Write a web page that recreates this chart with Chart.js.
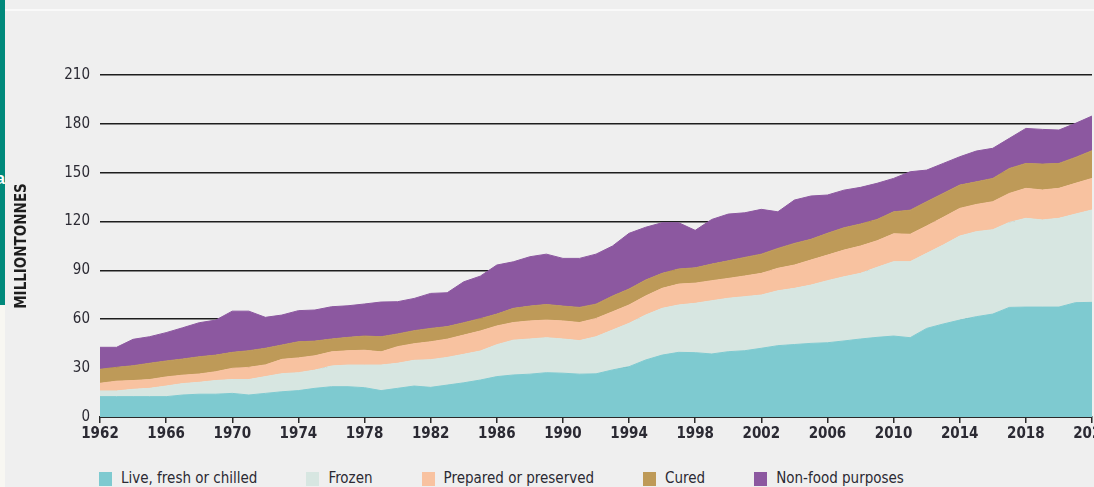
<!DOCTYPE html>
<html>
<head>
<meta charset="utf-8">
<script src="https://cdn.jsdelivr.net/npm/chart.js@4.4.0/dist/chart.umd.min.js"></script>
<style>
  html, body { margin: 0; padding: 0; background: #efefef; width: 1094px; height: 487px; overflow: hidden; }
  body { position: relative; font-family: "Liberation Sans Narrow", "DejaVu Sans Condensed", "Roboto Condensed", sans-serif; }
  #strip { position: absolute; left: 0; top: 0; width: 5px; height: 305px; background: #00897b; }
  #strip2 { position: absolute; left: 0; top: 305px; width: 5px; height: 182px; background: #f8f7f2; }
  #topline { position: absolute; left: 5px; top: 9px; right: 0; height: 2px; background: #f9f9f9; }
  #cut { position: absolute; left: -4px; top: 170px; color: #fff; font: bold 16px "Liberation Sans", sans-serif; }
  #chart { position: absolute; left: 0; top: 0; }
  #legend { position: absolute; left: 99px; top: 471px; display: flex; gap: 49px; font-size: 15px; color: #2b2a33; line-height: 15px; }
  #legend div { display: flex; align-items: center; }
  #legend span.box { display: inline-block; width: 13px; height: 14px; margin-right: 9px; }
</style>
</head>
<body>
<div id="strip"></div>
<div id="strip2"></div>
<div id="topline"></div>
<div id="cut">a</div>
<canvas id="chart" width="1130" height="462"></canvas>
<div id="legend"></div>
<script>
// years 1962 - 2022
const years = [];
for (let y = 1962; y <= 2022; y++) years.push(y);

const tickYears = [1962, 1966, 1970, 1974, 1978, 1982, 1986, 1990, 1994, 1998, 2002, 2006, 2010, 2014, 2018, 2022];
const yTicks = [0, 30, 60, 90, 120, 150, 180, 210];

const seriesNames = ['Live, fresh or chilled', 'Frozen', 'Prepared or preserved', 'Cured', 'Non-food purposes'];
const seriesColors = ['#7ecad0', '#d7e6e1', '#f8c2a0', '#be9a58', '#8c58a0'];

// million tonnes
const live = [12.5, 12.5, 12.5, 12.5, 12.5, 13.5, 14, 14, 14.5, 13.5, 14.5, 15.5, 16.2, 17.6, 18.6, 18.6, 18, 16.2, 17.6, 19,
  18.2, 19.6, 21, 22.7, 24.8, 25.8, 26.3, 27.2, 26.9, 26.3, 26.5, 28.9, 30.9, 35, 38, 39.7, 39.5, 38.7, 40.1, 40.7,
  42.2, 43.8, 44.5, 45.2, 45.6, 46.7, 47.9, 48.9, 49.7, 48.7, 54.4, 57.1, 59.5, 61.6, 63.2, 67.3, 67.5, 67.5, 67.5, 70.2, 70.4];
const frozen = [3.5, 3.5, 4.5, 5.1, 6.5, 7, 7.3, 8.4, 8.5, 9.5, 10.3, 11.1, 11, 11.2, 12.7, 13.3, 13.9, 15.7, 15.4, 15.8,
  17, 17, 17.5, 17.8, 19.6, 21.4, 21.6, 21.5, 21, 20.6, 22.8, 24.5, 26.6, 27.6, 28.7, 29.1, 30.3, 32.7, 32.8, 33.2,
  32.7, 33.7, 34.5, 35.8, 38.1, 39.4, 40.3, 43, 45.7, 46.7, 46.1, 48.5, 51.6, 52.2, 51.8, 52.2, 54.5, 53.5, 54.5, 54.4, 56.7];
const prepared = [4.7, 6, 5.4, 5.4, 5.6, 5.2, 5.1, 5.4, 6.9, 7.5, 7.2, 8.8, 9.1, 8.8, 8.7, 8.8, 9.1, 8.1, 10.2, 10.2,
  11, 11.2, 11.8, 12.3, 11.5, 10.8, 11.1, 10.8, 11.1, 11.1, 11.2, 11.2, 11.3, 11.7, 12.3, 12.8, 12.4, 12.3, 12.2, 12.7,
  13.3, 13.8, 14.3, 15.4, 15.7, 16.4, 16.8, 16.3, 17.1, 16.8, 16.8, 17, 17, 16.7, 17.2, 17.8, 18.4, 18.4, 18.4, 18.9, 19.4];
const cured = [8.6, 8.5, 9.1, 10, 9.8, 9.9, 10.6, 10.2, 9.8, 10.2, 10.2, 8.8, 9.9, 9, 7.9, 8.2, 8.7, 9.3, 7.8, 8,
  8.2, 7.7, 7.6, 7.6, 7.3, 8.7, 9.1, 9.6, 9.1, 9.3, 8.8, 9.7, 9.8, 9.8, 9.2, 9.3, 9.4, 10.2, 10.8, 11.4,
  11.8, 12.2, 13.3, 12.7, 13.4, 13.7, 13.5, 13.1, 13.5, 14.8, 14.9, 14.7, 14.3, 13.9, 14.3, 15.3, 15.3, 15.9, 15.3, 15.9, 17];
const nonFood = [13.5, 12.3, 16.2, 16.3, 17.4, 19.2, 20.9, 21.5, 25.3, 24.3, 19, 18.4, 19.1, 19.1, 19.8, 19.4, 19.7, 21.3, 19.8, 19.8,
  21.5, 20.8, 25.1, 26.1, 30.1, 28.6, 30.3, 30.9, 29.3, 30.1, 30.7, 30.7, 34.2, 32.4, 31.1, 28.4, 23, 27.4, 28.7, 27.4,
  27.5, 22.5, 26.6, 26.6, 23.5, 23.1, 22.5, 22.2, 20.5, 23.6, 19.4, 18.4, 17.4, 18.9, 18.5, 18.5, 21.5, 21.3, 20.5, 20.9, 21.3];

const allSeries = [live, frozen, prepared, cured, nonFood];

const fontFam = '"Liberation Sans Narrow", "DejaVu Sans Condensed", "Roboto Condensed", sans-serif';
const textColor = '#2b2a33';

// stacked areas, each filled down to the one below
const datasets = allSeries.map((vals, i) => ({
  label: seriesNames[i],
  data: years.map((yr, j) => ({ x: yr, y: vals[j] })),
  backgroundColor: seriesColors[i],
  borderColor: seriesColors[i],
  borderWidth: 1,
  pointRadius: 0,
  tension: 0,
  fill: i === 0 ? 'origin' : '-1'
}));

const ctx = document.getElementById('chart').getContext('2d');

const chart = new Chart(ctx, {
  type: 'line',
  data: { datasets: datasets },
  options: {
    responsive: false,
    animation: false,
    layout: { padding: { left: 0, right: 38, top: 75, bottom: 0 } },
    plugins: {
      legend: { display: false },
      tooltip: { enabled: false }
    },
    scales: {
      x: {
        type: 'linear',
        min: 1962,
        max: 2022,
        afterBuildTicks: s => { s.ticks = tickYears.map(v => ({ value: v })); },
        afterFit: s => { s.height = 45; },
        border: { display: true, color: '#2a2a2a', width: 2 },
        grid: { drawOnChartArea: false, drawTicks: true, tickLength: 6, color: '#2a2a2a', lineWidth: 1.5 },
        ticks: {
          autoSkip: false,
          maxRotation: 0,
          padding: 2,
          color: textColor,
          font: { family: fontFam, size: 15, weight: 'bold' },
          callback: v => String(v)
        }
      },
      y: {
        stacked: true,
        min: 0,
        max: 210,
        afterBuildTicks: s => { s.ticks = yTicks.map(v => ({ value: v })); },
        afterFit: s => { s.width = 100; },
        border: { display: false },
        grid: { color: '#1e1e1e', lineWidth: 1.6, drawTicks: false },
        ticks: {
          padding: 10,
          color: textColor,
          font: { family: fontFam, size: 15 }
        },
        title: {
          display: true,
          text: 'MILLIONTONNES',
          color: '#1e1e1e',
          padding: { top: 13, bottom: 0 },
          font: { family: fontFam, size: 15, weight: 'bold' }
        }
      }
    }
  }
});

// legend below the chart
const legend = document.getElementById('legend');
seriesNames.forEach((name, i) => {
  const item = document.createElement('div');
  const box = document.createElement('span');
  box.className = 'box';
  box.style.background = seriesColors[i];
  item.appendChild(box);
  item.appendChild(document.createTextNode(name));
  legend.appendChild(item);
});
</script>
</body>
</html>
